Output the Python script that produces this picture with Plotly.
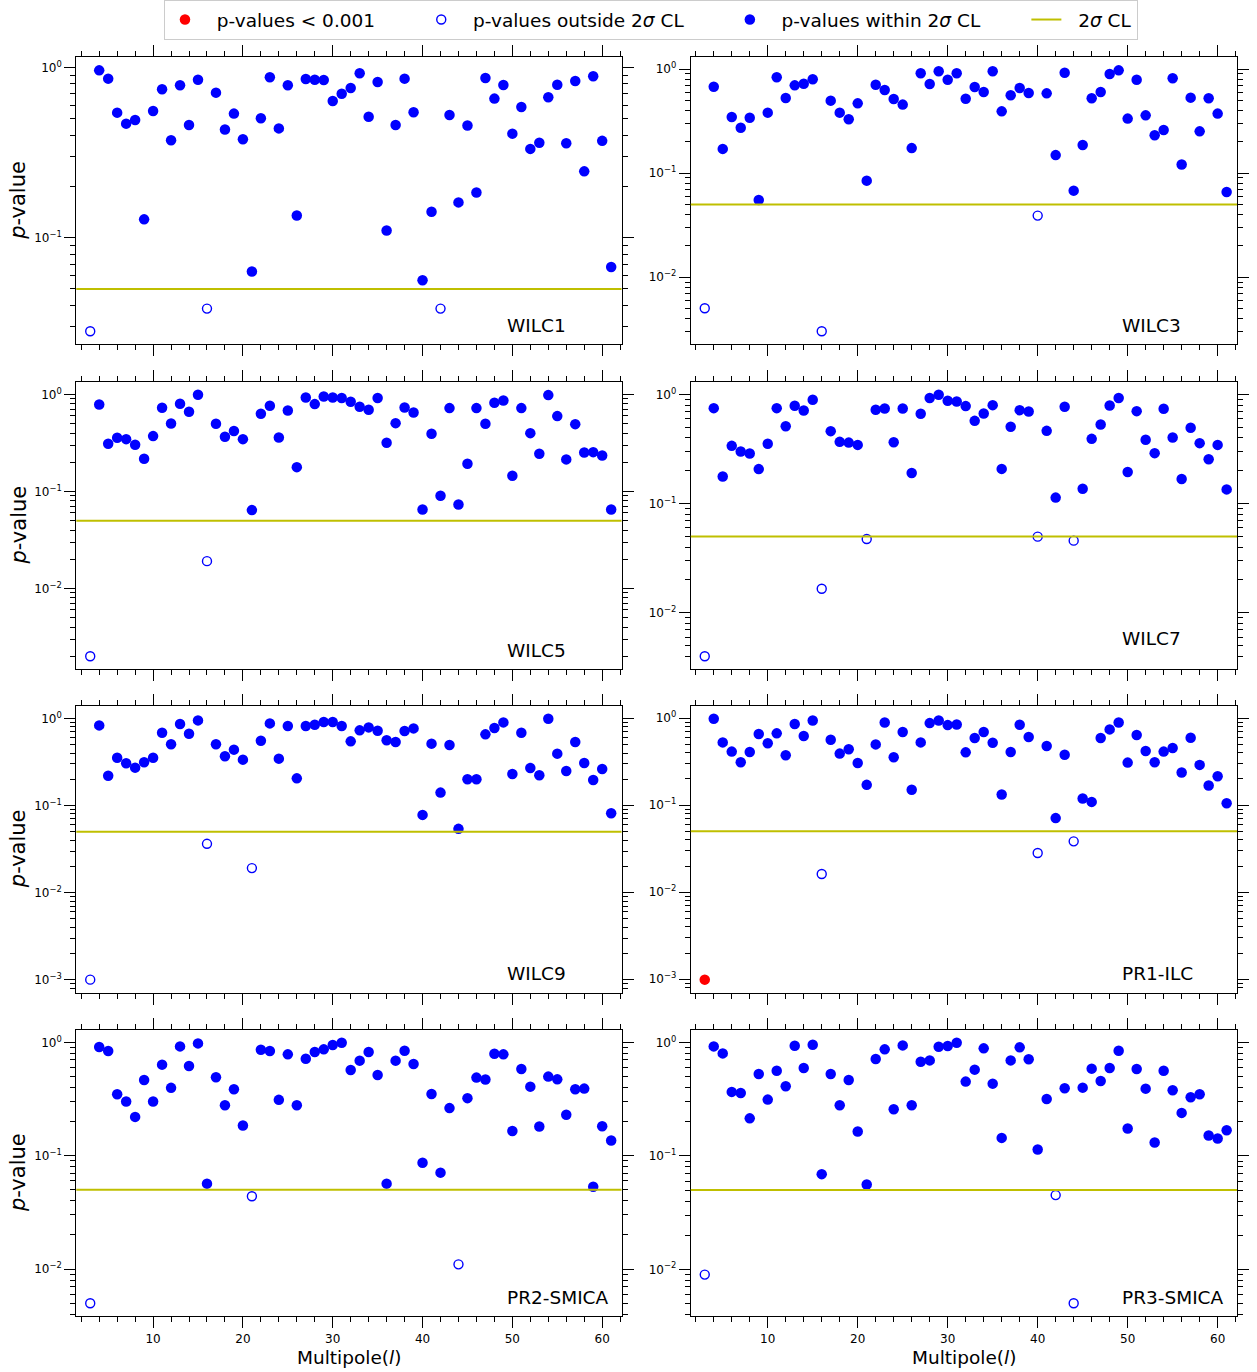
import math
import plotly.graph_objects as go

# ---------------- data ----------------
multipoles = list(range(3, 62))

WILC1 = [0.0282, 0.960, 0.858, 0.542, 0.467, 0.491, 0.128, 0.554, 0.743, 0.373,
         0.784, 0.459, 0.846, 0.0383, 0.710, 0.431, 0.535, 0.378, 0.0632, 0.502,
         0.874, 0.438, 0.784, 0.135, 0.854, 0.846, 0.843, 0.634, 0.700, 0.756,
         0.922, 0.513, 0.820, 0.110, 0.459, 0.858, 0.545, 0.0562, 0.142, 0.0383,
         0.525, 0.161, 0.455, 0.184, 0.866, 0.655, 0.788, 0.408, 0.585, 0.332,
         0.361, 0.667, 0.791, 0.358, 0.831, 0.245, 0.886, 0.370, 0.0673]

WILC3 = [0.00504, 0.676, 0.171, 0.346, 0.273, 0.341, 0.0553, 0.381, 0.832, 0.527,
         0.697, 0.723, 0.796, 0.00303, 0.497, 0.381, 0.329, 0.468, 0.0847, 0.707,
         0.629, 0.515, 0.455, 0.174, 0.909, 0.718, 0.950, 0.790, 0.909, 0.519,
         0.672, 0.601, 0.950, 0.392, 0.559, 0.657, 0.588, 0.0391, 0.584, 0.149,
         0.922, 0.0679, 0.186, 0.523, 0.601, 0.895, 0.971, 0.334, 0.790, 0.359,
         0.231, 0.260, 0.814, 0.121, 0.531, 0.252, 0.523, 0.373, 0.0659]

WILC5 = [0.00200, 0.789, 0.310, 0.357, 0.346, 0.303, 0.217, 0.372, 0.729, 0.502,
         0.801, 0.663, 0.992, 0.0191, 0.499, 0.366, 0.419, 0.346, 0.0642, 0.632,
         0.764, 0.360, 0.684, 0.178, 0.931, 0.795, 0.954, 0.931, 0.917, 0.840,
         0.746, 0.695, 0.917, 0.318, 0.506, 0.734, 0.652, 0.0652, 0.393, 0.0902,
         0.723, 0.0734, 0.193, 0.723, 0.499, 0.821, 0.867, 0.145, 0.723, 0.399,
         0.245, 0.984, 0.598, 0.214, 0.494, 0.252, 0.254, 0.235, 0.0652]

WILC7 = [0.00400, 0.749, 0.177, 0.338, 0.300, 0.288, 0.207, 0.353, 0.749, 0.512,
         0.787, 0.713, 0.894, 0.0166, 0.461, 0.368, 0.362, 0.345, 0.0474, 0.723,
         0.744, 0.365, 0.744, 0.191, 0.665, 0.926, 0.993, 0.875, 0.863, 0.782,
         0.573, 0.669, 0.798, 0.208, 0.505, 0.718, 0.698, 0.0498, 0.464, 0.1135,
         0.771, 0.0458, 0.137, 0.392, 0.531, 0.793, 0.926, 0.195, 0.703, 0.384,
         0.290, 0.739, 0.403, 0.168, 0.495, 0.358, 0.255, 0.345, 0.135]

WILC9 = [0.00100, 0.831, 0.220, 0.354, 0.305, 0.272, 0.313, 0.354, 0.685, 0.504,
         0.861, 0.667, 0.949, 0.0363, 0.504, 0.367, 0.438, 0.336, 0.0191, 0.555,
         0.876, 0.345, 0.817, 0.205, 0.817, 0.846, 0.908, 0.908, 0.817, 0.545,
         0.729, 0.788, 0.722, 0.560, 0.536, 0.716, 0.768, 0.0780, 0.513, 0.1406,
         0.495, 0.0539, 0.200, 0.200, 0.656, 0.775, 0.900, 0.230, 0.685, 0.270,
         0.222, 0.991, 0.394, 0.249, 0.536, 0.308, 0.196, 0.262, 0.0815]

PR1_ILC = [0.00099, 0.983, 0.526, 0.412, 0.311, 0.408, 0.656, 0.513, 0.668, 0.374,
           0.854, 0.622, 0.940, 0.0162, 0.565, 0.391, 0.438, 0.305, 0.171, 0.499,
           0.892, 0.355, 0.691, 0.150, 0.526, 0.876, 0.940, 0.831, 0.846, 0.404,
           0.590, 0.691, 0.522, 0.1324, 0.408, 0.839, 0.606, 0.0282, 0.478, 0.0710,
           0.380, 0.0384, 0.119, 0.109, 0.590, 0.742, 0.892, 0.308, 0.639, 0.419,
           0.311, 0.412, 0.453, 0.237, 0.595, 0.290, 0.168, 0.215, 0.1054]

PR2_SMICA = [0.00499, 0.910, 0.839, 0.349, 0.301, 0.220, 0.466, 0.301, 0.636, 0.397,
             0.922, 0.619, 0.980, 0.0567, 0.492, 0.279, 0.386, 0.185, 0.0439, 0.862,
             0.839, 0.311, 0.784, 0.279, 0.718, 0.822, 0.868, 0.947, 0.993, 0.571,
             0.690, 0.822, 0.516, 0.0567, 0.690, 0.845, 0.645, 0.0868, 0.351, 0.0709,
             0.263, 0.0110, 0.322, 0.489, 0.470, 0.795, 0.784, 0.165, 0.583, 0.407,
             0.181, 0.499, 0.472, 0.230, 0.386, 0.391, 0.0533, 0.182, 0.136]

PR3_SMICA = [0.00898, 0.922, 0.800, 0.366, 0.358, 0.214, 0.527, 0.313, 0.563, 0.410,
             0.935, 0.594, 0.954, 0.0690, 0.527, 0.279, 0.466, 0.164, 0.0560, 0.714,
             0.868, 0.257, 0.941, 0.279, 0.676, 0.694, 0.916, 0.928, 0.993, 0.451,
             0.575, 0.886, 0.433, 0.144, 0.694, 0.904, 0.709, 0.1137, 0.317, 0.0451,
             0.394, 0.00502, 0.399, 0.587, 0.457, 0.594, 0.845, 0.174, 0.583, 0.391,
             0.131, 0.563, 0.378, 0.239, 0.328, 0.349, 0.151, 0.142, 0.168]

panel_names = ["WILC1", "WILC3", "WILC5", "WILC7", "WILC9", "PR1-ILC", "PR2-SMICA", "PR3-SMICA"]
panel_values = [WILC1, WILC3, WILC5, WILC7, WILC9, PR1_ILC, PR2_SMICA, PR3_SMICA]

threshold = 0.05        # 2 sigma CL
extreme_cut = 0.001

x_ticks = [10, 20, 30, 40, 50, 60]
legend_names = ["p-values < 0.001", "p-values outside 2<i>σ</i> CL",
                "p-values within 2<i>σ</i> CL", "2<i>σ</i> CL"]

# ---------------- layout geometry ----------------
W, H = 1257, 1372
FONT = "DejaVu Sans"
col_px = [(76.3, 621.5), (690.8, 1237.0)]
row_px = [(57.3, 344.3), (381.7, 669.3), (705.7, 992.7), (1029.7, 1316.3)]
label_yfrac = [0.067, 0.067, 0.067, 0.108, 0.067, 0.067, 0.064, 0.064]
x_range = [1.45, 62.15]

BLUE = "#0000ff"
RED = "#ff0000"
OLIVE = "#bfbf00"

NB = "\u00a0"
def pad(txt, last=False):
    return NB * 2 + txt + ("" if last else NB * 7)

fig = go.Figure()
annotations = []
shapes = []

sup = lambda k: "10<sup>" + (str(k) if k >= 0 else "\u2212" + str(-k)) + "</sup>"

for i, (name, vals) in enumerate(zip(panel_names, panel_values)):
    row, col = divmod(i, 2)
    k = i + 1
    xa = "x" if k == 1 else f"x{k}"
    ya = "y" if k == 1 else f"y{k}"
    xkey = "xaxis" if k == 1 else f"xaxis{k}"
    ykey = "yaxis" if k == 1 else f"yaxis{k}"

    red_x = [l for l, p in zip(multipoles, vals) if p < extreme_cut]
    red_y = [p for p in vals if p < extreme_cut]
    open_x = [l for l, p in zip(multipoles, vals) if extreme_cut <= p < threshold]
    open_y = [p for p in vals if extreme_cut <= p < threshold]
    fill_x = [l for l, p in zip(multipoles, vals) if p >= threshold]
    fill_y = [p for p in vals if p >= threshold]

    fig.add_trace(go.Scatter(x=fill_x, y=fill_y, mode="markers", xaxis=xa, yaxis=ya,
                             marker=dict(color=BLUE, size=10.5, line=dict(width=0)),
                             name=pad(legend_names[2]), legendgroup="fill", legendrank=3,
                             showlegend=(i == 0)))
    fig.add_trace(go.Scatter(x=open_x, y=open_y, mode="markers", xaxis=xa, yaxis=ya,
                             marker=dict(color=BLUE, size=9, symbol="circle-open",
                                         line=dict(width=1.4, color=BLUE)),
                             name=pad(legend_names[1]), legendgroup="open", legendrank=2,
                             showlegend=(i == 0)))
    fig.add_trace(go.Scatter(x=red_x, y=red_y, mode="markers", xaxis=xa, yaxis=ya,
                             marker=dict(color=RED, size=10.5, line=dict(width=0)),
                             name=pad(legend_names[0]), legendgroup="red", legendrank=1,
                             showlegend=(len(red_x) > 0)))

    # threshold line
    shp = dict(type="line", xref=f"{xa} domain", x0=0, x1=1, yref=ya,
               y0=threshold, y1=threshold, line=dict(color=OLIVE, width=2))
    if i == 0:
        shp.update(showlegend=True, name=pad(legend_names[3], last=True),
                   legendrank=4, legendgroup="cl")
    shapes.append(shp)

    # axis ranges (5% margins in log space)
    lo, hi = math.log10(min(vals)), math.log10(max(vals))
    m = 0.05 * (hi - lo)
    y_range = [lo - m, hi + m]
    kmin, kmax = math.floor(y_range[0]), math.ceil(y_range[1])
    majors = [10.0 ** e for e in range(kmin, kmax + 1) if y_range[0] <= e <= y_range[1]]
    major_text = [sup(e) for e in range(kmin, kmax + 1) if y_range[0] <= e <= y_range[1]]
    minors = [j * 10.0 ** e for e in range(kmin, kmax + 1) for j in range(2, 10)
              if y_range[0] <= math.log10(j * 10.0 ** e) <= y_range[1]]

    x0p, x1p = col_px[col]
    y0p, y1p = row_px[row]
    xdom = [x0p / W, x1p / W]
    ydom = [1 - y1p / H, 1 - y0p / H]

    common = dict(showline=True, linecolor="black", linewidth=1.2, mirror="ticks",
                  ticks="outside", ticklen=11, tickwidth=1.2, tickcolor="black",
                  showgrid=False, zeroline=False, automargin=False,
                  tickfont=dict(family=FONT, size=12, color="black"))

    fig.layout[xkey] = dict(common, domain=xdom, anchor=ya, range=x_range,
                            tickmode="array", tickvals=x_ticks,
                            showticklabels=(row == 3),
                            minor=dict(ticks="outside", ticklen=5, tickwidth=1,
                                       tickcolor="black", tickmode="array",
                                       tickvals=[v for v in range(2, 63, 2) if v % 10]))
    fig.layout[ykey] = dict(common, domain=ydom, anchor=xa, type="log", range=y_range,
                            tickmode="array", tickvals=majors, ticktext=major_text,
                            minor=dict(ticks="outside", ticklen=5, tickwidth=1,
                                       tickcolor="black", tickmode="array",
                                       tickvals=minors))

    annotations.append(dict(text=name, xref=f"{xa} domain", yref=f"{ya} domain",
                            x=0.786, y=label_yfrac[i], xanchor="left", yanchor="middle",
                            showarrow=False, font=dict(family=FONT, size=18.5, color="black")))

    if col == 0:
        annotations.append(dict(text="<i>p</i>-value", xref="paper", yref="paper",
                                x=18 / W, y=1 - (y0p + y1p) / 2 / H, textangle=-90,
                                xanchor="center", yanchor="middle", showarrow=False,
                                font=dict(family=FONT, size=21, color="black")))
    if row == 3:
        annotations.append(dict(text="Multipole(<i>l</i>)", xref="paper", yref="paper",
                                x=(x0p + x1p) / 2 / W, y=1 - 1357 / H,
                                xanchor="center", yanchor="middle", showarrow=False,
                                font=dict(family=FONT, size=18.5, color="black")))

fig.update_layout(
    width=W, height=H, autosize=False,
    margin=dict(l=0, r=0, t=0, b=0),
    paper_bgcolor="white", plot_bgcolor="white",
    font=dict(family=FONT, color="black"),
    shapes=shapes, annotations=annotations,
    legend=dict(orientation="h", x=651 / W, xanchor="center", y=1, yanchor="top",
                bordercolor="#cccccc", borderwidth=1, bgcolor="white",
                font=dict(family=FONT, size=18.5, color="black"),
                itemwidth=30, traceorder="normal"),
)

fig.write_html("out.html")
